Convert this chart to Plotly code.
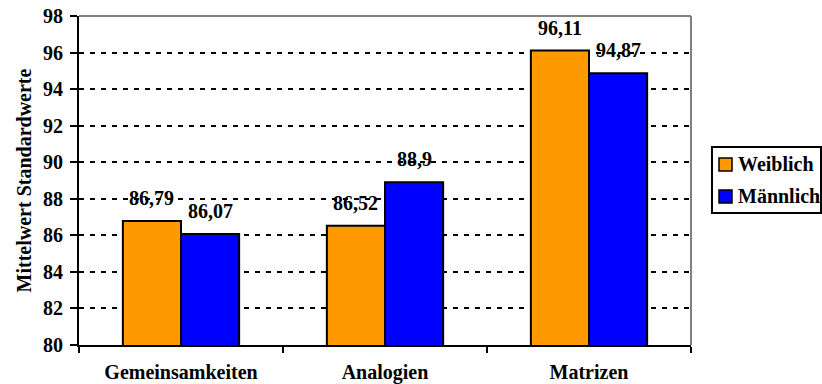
import plotly.graph_objects as go

categories = ["Gemeinsamkeiten", "Analogien", "Matrizen"]
weiblich = [86.79, 86.52, 96.11]
maennlich = [86.07, 88.9, 94.87]
labels_weiblich = ["86,79", "86,52", "96,11"]
labels_maennlich = ["86,07", "88,9", "94,87"]
series_names = ["Weiblich", "Männlich"]
y_ticks = [80, 82, 84, 86, 88, 90, 92, 94, 96, 98]

W, H = 822, 384
margin = dict(l=79, r=131, t=16, b=39)
bargap = 0.43
font_family = "Liberation Serif, Times New Roman, serif"
fs = 20
colors = ["#FF9900", "#0000FF"]

plot_w = W - margin["l"] - margin["r"]
plot_h = H - margin["t"] - margin["b"]


def px_x(p):
    """pixel column -> paper x"""
    return (p - margin["l"]) / plot_w


def px_y(p):
    """pixel row -> paper y"""
    return (H - margin["b"] - p) / plot_h


fig = go.Figure()
for name, vals, col in zip(series_names, [weiblich, maennlich], colors):
    fig.add_bar(name=name, x=categories, y=vals, showlegend=False,
                marker=dict(color=col, line=dict(color="black", width=2)))

# value labels above each bar, shifted to the bar centre within its group
bar_px = plot_w / len(categories) * (1 - bargap) / 2
for vals, texts, sign in [(weiblich, labels_weiblich, -1), (maennlich, labels_maennlich, 1)]:
    for cat, v, t in zip(categories, vals, texts):
        fig.add_annotation(x=cat, y=v, text=f"<b>{t}</b>", showarrow=False,
                           xshift=sign * bar_px / 2, yshift=10, yanchor="bottom",
                           font=dict(size=fs))

# grey frame on top and right of the plot area
fig.add_shape(type="line", xref="paper", yref="paper", x0=0, x1=1, y0=1, y1=1,
              line=dict(color="#808080", width=2), layer="below")
fig.add_shape(type="line", xref="paper", yref="paper", x0=1, x1=1, y0=0, y1=1,
              line=dict(color="#808080", width=2), layer="below")

# legend box with coloured swatches
fig.add_shape(type="rect", xref="paper", yref="paper",
              x0=px_x(712), x1=px_x(821), y0=px_y(213), y1=px_y(147),
              line=dict(color="black", width=2), fillcolor="white")
for i, (name, col) in enumerate(zip(series_names, colors)):
    cy = 164 + 32 * i
    fig.add_shape(type="rect", xref="paper", yref="paper",
                  x0=px_x(719), x1=px_x(732), y0=px_y(cy + 7), y1=px_y(cy - 6),
                  line=dict(color="black", width=1.5), fillcolor=col)
    fig.add_annotation(xref="paper", yref="paper", x=px_x(736), y=px_y(cy),
                       text=f"<b>{name}</b>", showarrow=False,
                       xanchor="left", yanchor="middle", font=dict(size=fs))

fig.update_layout(
    width=W, height=H, margin=margin,
    barmode="group", bargap=bargap, bargroupgap=0,
    plot_bgcolor="white", paper_bgcolor="white",
    font=dict(family=font_family, size=fs, color="black"),
    showlegend=False,
)
fig.update_xaxes(
    automargin=False,
    showline=True, linecolor="black", linewidth=2,
    ticks="outside", ticklen=6, tickwidth=2, tickcolor="black",
    tickson="boundaries", showgrid=False,
    tickfont=dict(size=fs), ticklabelstandoff=8,
    tickvals=categories, ticktext=[f"<b>{c}</b>" for c in categories],
)
fig.update_yaxes(
    automargin=False,
    range=[80, 98], tickvals=y_ticks,
    ticktext=[f"<b>{v}</b>" for v in y_ticks],
    showline=True, linecolor="black", linewidth=2,
    ticks="outside", ticklen=7, tickwidth=2, tickcolor="black",
    showgrid=True, gridcolor="black", gridwidth=2, griddash="5px,6px",
    zeroline=False, tickfont=dict(size=fs), ticklabelstandoff=3,
    title=dict(text="<b>Mittelwert Standardwerte</b>", font=dict(size=fs), standoff=6),
)

fig.write_html("out.html")
